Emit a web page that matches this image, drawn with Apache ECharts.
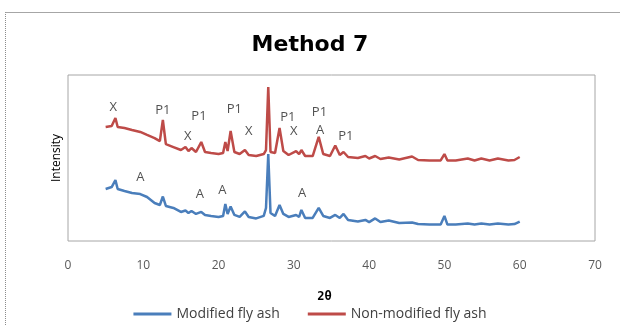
<!DOCTYPE html>
<html>
<head>
<meta charset="utf-8">
<script src="https://cdn.jsdelivr.net/npm/echarts@6/dist/echarts.min.js"></script>
<style>
  html, body { margin: 0; padding: 0; background: #fff; overflow: hidden; }
  #frame { position: absolute; left: 5px; top: 12px; width: 700px; height: 400px;
           border-top: 1px solid #a6a6a6; border-left: 1px dotted #8c8c8c; }
  #main { position: absolute; left: 0; top: 0; width: 620px; height: 326px; }
</style>
</head>
<body>
<div id="frame"></div>
<div id="main"></div>
<script>
var chartDom = document.getElementById('main');
var myChart = echarts.init(chartDom);

// 2 theta positions (degrees)
var twoTheta = [5.0, 5.8, 6.3, 6.6, 7.5, 8.5, 9.6, 10.5, 11.5, 12.2, 12.6, 13.0, 14.0, 15.0, 15.6, 16.0, 16.4, 17.0, 17.7, 18.2,
  19.0, 20.0, 20.6, 20.9, 21.2, 21.6, 22.1, 22.8, 23.5, 24.0, 25.0, 26.0, 26.3, 26.6, 26.9, 27.5, 28.1, 28.6, 29.3, 30.3,
  30.7, 31.0, 31.5, 32.5, 33.3, 33.9, 34.8, 35.5, 36.1, 36.6, 37.2, 38.5, 39.5, 40.0, 40.8, 41.5, 42.6, 44.0, 45.7, 46.5,
  48.0, 49.5, 50.0, 50.4, 51.5, 53.1, 54.0, 54.9, 56.0, 57.1, 58.5, 59.3, 60.0];

// intensity, arbitrary units
var modified = [31.3, 32.5, 36.7, 31.3, 30.1, 28.9, 28.3, 26.5, 22.9, 21.7, 26.8, 21.1, 19.9, 17.5, 18.4, 16.9, 18.1, 16.3, 17.5, 15.7,
  15.1, 14.5, 15.1, 22.3, 16.3, 20.8, 15.7, 14.5, 17.8, 14.5, 13.6, 15.1, 19.9, 52.4, 16.9, 15.1, 21.7, 16.3, 14.5, 15.7,
  14.5, 18.7, 13.9, 13.9, 19.9, 15.1, 13.9, 15.7, 13.9, 16.3, 12.7, 11.7, 12.7, 11.4, 13.6, 11.4, 12.3, 10.8, 11.1, 10.2,
  9.9, 9.9, 15.1, 9.9, 9.9, 10.5, 9.9, 10.5, 9.9, 10.5, 9.9, 10.2, 11.7];

var nonModified = [68.7, 69.3, 74.1, 68.7, 68.1, 66.9, 65.7, 63.9, 62.0, 60.2, 72.9, 58.4, 56.6, 54.8, 56.6, 54.2, 56.0, 53.6, 59.6, 53.6,
  53.0, 52.4, 53.0, 59.6, 54.2, 66.3, 53.6, 52.4, 54.8, 51.8, 51.2, 52.4, 54.8, 92.8, 53.6, 53.0, 68.1, 54.2, 51.8, 54.2,
  52.4, 54.8, 51.2, 51.2, 62.7, 52.4, 51.2, 57.5, 51.8, 53.6, 50.6, 50.0, 51.2, 49.7, 51.2, 49.4, 50.3, 49.1, 50.9, 48.8,
  48.5, 48.5, 52.4, 48.5, 48.5, 49.7, 48.5, 49.7, 48.5, 49.7, 48.5, 48.8, 50.6];

// phase labels over the peaks
var peakText = ['X', 'P1', 'X', 'P1', 'P1', 'X', 'P1', 'X', 'P1', 'A', 'P1', 'A', 'A', 'A', 'A'];
var peakX = [6.0, 12.6, 15.9, 17.4, 22.1, 24.0, 29.2, 30.0, 33.4, 33.5, 36.9, 9.6, 17.5, 20.5, 31.1];
var peakY = [80.5, 78.5, 63.3, 75.3, 79.3, 65.8, 74.3, 65.8, 77.3, 66.4, 62.8, 38.4, 28.3, 30.3, 28.7];

var xTicks = [0, 10, 20, 30, 40, 50, 60, 70];

function pairs(xs, ys) {
  var out = [];
  for (var i = 0; i < xs.length; i++) out.push([xs[i], ys[i]]);
  return out;
}

var option = {
  animation: false,
  textStyle: { fontFamily: 'Open Sans' },
  title: {
    text: 'Method 7',
    left: 'center',
    top: 29,
    textStyle: { fontFamily: 'DejaVu Sans', fontWeight: 'bold', fontSize: 22, color: '#000' }
  },
  legend: {
    data: ['Modified fly ash', 'Non-modified fly ash'],
    top: 302,
    left: 'center',
    itemWidth: 38,
    itemHeight: 3,
    itemGap: 28,
    icon: 'rect',
    textStyle: { fontFamily: 'Open Sans', fontSize: 14, color: '#404040' }
  },
  grid: {
    show: true,
    left: 68,
    right: 25,
    top: 75,
    bottom: 85,
    borderColor: '#a6a6a6',
    borderWidth: 1
  },
  xAxis: {
    type: 'value',
    min: 0,
    max: 70,
    interval: 10,
    name: '2θ',
    nameLocation: 'middle',
    nameGap: 50,
    nameTextStyle: { fontFamily: 'DejaVu Sans Mono', fontWeight: 'bold', fontSize: 12, color: '#000', padding: [0, 14, 0, 0] },
    axisLine: { show: false },
    axisTick: { show: false },
    splitLine: { show: false },
    axisLabel: {
      margin: 19,
      fontSize: 12,
      color: '#595959',
      formatter: function (v) { return xTicks.indexOf(v) >= 0 ? String(v) : ''; }
    }
  },
  yAxis: {
    type: 'value',
    min: 0,
    max: 100,
    name: 'Intensity',
    nameLocation: 'middle',
    nameGap: 5,
    nameTextStyle: { fontSize: 12, color: '#000' },
    axisLine: { show: false },
    axisTick: { show: false },
    axisLabel: { show: false },
    splitLine: { show: false }
  },
  series: [
    {
      name: 'Modified fly ash',
      type: 'line',
      data: pairs(twoTheta, modified),
      showSymbol: false,
      symbol: 'none',
      lineStyle: { color: '#4a7ebb', width: 2.5 },
      itemStyle: { color: '#4a7ebb' }
    },
    {
      name: 'Non-modified fly ash',
      type: 'line',
      data: pairs(twoTheta, nonModified),
      showSymbol: false,
      symbol: 'none',
      lineStyle: { color: '#be4b48', width: 2.5 },
      itemStyle: { color: '#be4b48' }
    },
    {
      name: 'labels',
      type: 'scatter',
      symbolSize: 0,
      data: pairs(peakX, peakY),
      silent: true,
      label: {
        show: true,
        position: 'inside',
        fontSize: 13,
        color: '#262626',
        formatter: function (p) { return peakText[p.dataIndex]; }
      }
    }
  ]
};

myChart.setOption(option);
</script>
</body>
</html>
